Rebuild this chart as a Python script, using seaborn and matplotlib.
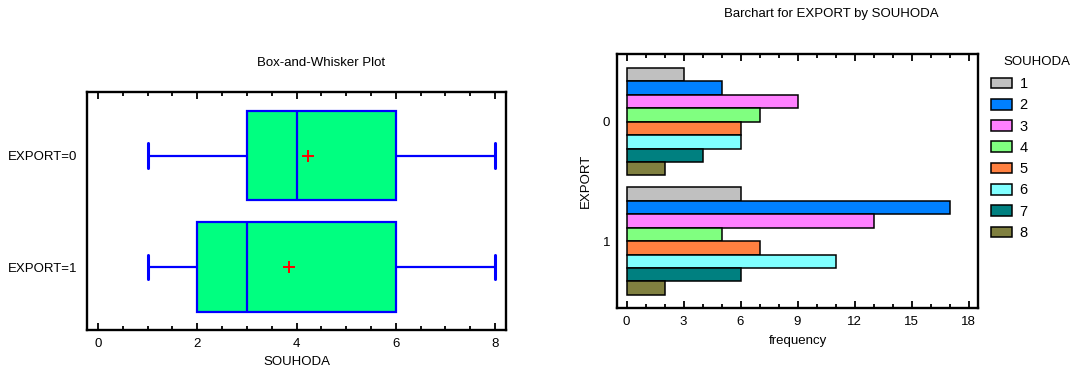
import numpy as np
import pandas as pd
import matplotlib
matplotlib.use("Agg")
import matplotlib.pyplot as plt
from matplotlib.ticker import MultipleLocator
import seaborn as sns

# Frequency table of SOUHODA (1..8) within each EXPORT group
souhoda_levels = [1, 2, 3, 4, 5, 6, 7, 8]
export_levels = ["0", "1"]
freq_export0 = [3, 5, 9, 7, 6, 6, 4, 2]
freq_export1 = [6, 17, 13, 5, 7, 11, 6, 2]
box_labels = ["EXPORT=0", "EXPORT=1"]

bar_colors = ["#C0C0C0", "#0080FF", "#FF80FF", "#80FF80",
              "#FF8040", "#80FFFF", "#008080", "#808040"]

sns.set_theme(style="white")
plt.rcParams["font.family"] = ["Liberation Sans", "DejaVu Sans"]
plt.rcParams["font.size"] = 9.5
plt.rcParams["text.color"] = "black"
plt.rcParams["axes.labelcolor"] = "black"
plt.rcParams["xtick.color"] = "black"
plt.rcParams["ytick.color"] = "black"

# Long table for the bar chart
freq_df = pd.DataFrame({
    "EXPORT": np.repeat(export_levels, len(souhoda_levels)),
    "SOUHODA": souhoda_levels * 2,
    "frequency": freq_export0 + freq_export1,
})

# Individual observations rebuilt from the counts, for the box plot
raw_rows = []
for lab, counts in zip(box_labels, [freq_export0, freq_export1]):
    for s, c in zip(souhoda_levels, counts):
        raw_rows += [(lab, s)] * c
raw_df = pd.DataFrame(raw_rows, columns=["group", "SOUHODA"])

fig = plt.figure(figsize=(10.79, 3.72), dpi=100)
W, H = 1079, 372


def px_axes(x0, y0, x1, y1):
    return fig.add_axes([x0 / W, 1 - y1 / H, (x1 - x0) / W, (y1 - y0) / H])


def style_frame(ax):
    for sp in ax.spines.values():
        sp.set_visible(True)
        sp.set_color("black")
        sp.set_linewidth(1.7)
    ax.tick_params(axis="x", which="both", direction="in", top=True, bottom=True,
                   color="black", width=1.3, labelsize=9.5, labelcolor="black",
                   pad=6)
    ax.tick_params(axis="x", which="major", length=5)
    ax.tick_params(axis="x", which="minor", length=3)
    ax.tick_params(axis="y", which="both", length=0, labelsize=9.5,
                   labelcolor="black")


# ---- Box-and-whisker plot ----
ax1 = px_axes(87, 92, 506, 330)
sns.boxplot(data=raw_df, x="SOUHODA", y="group", order=box_labels, orient="h",
            width=0.8, whis=(0, 100), color="#00FF80", saturation=1,
            linecolor="#0000FF", linewidth=1.6, showmeans=True,
            showfliers=False,
            meanprops=dict(marker="+", markeredgecolor="red", markersize=9,
                           markeredgewidth=1.4),
            ax=ax1)
# whisker caps: short vertical segments, drawn a little heavier
for ln in ax1.lines:
    yd = np.asarray(ln.get_ydata(), dtype=float)
    xd = np.asarray(ln.get_xdata(), dtype=float)
    if len(xd) == 2 and xd[0] == xd[1] and 0 < abs(yd[1] - yd[0]) < 0.6:
        c = yd.mean()
        ln.set_ydata([c - 0.11, c + 0.11])
        ln.set_linewidth(2.2)
ax1.set_xlim(-0.22, 8.22)
ax1.set_ylim(1.565, -0.57)
ax1.xaxis.set_major_locator(MultipleLocator(2))
ax1.xaxis.set_minor_locator(MultipleLocator(0.5))
style_frame(ax1)
ax1.tick_params(axis="y", pad=7)
ax1.set_ylabel("")
ax1.set_xlabel("SOUHODA", fontsize=9.5, labelpad=4)
fig.text(321 / W, 1 - 63 / H, "Box-and-Whisker Plot", ha="center", va="center",
         fontsize=9.5)

# ---- Bar chart ----
ax2 = px_axes(617, 54, 978, 308)
sns.barplot(data=freq_df, y="EXPORT", x="frequency", hue="SOUHODA",
            order=export_levels, hue_order=souhoda_levels, orient="h",
            palette=bar_colors, width=0.9, edgecolor="black", linewidth=1.1,
            saturation=1, ax=ax2, legend=True)
ax2.set_xlim(-0.5, 18.5)
ax2.set_ylim(1.56, -0.567)
ax2.xaxis.set_major_locator(MultipleLocator(3))
ax2.xaxis.set_minor_locator(MultipleLocator(1))
style_frame(ax2)
ax2.tick_params(axis="y", pad=5)
ax2.set_xlabel("frequency", fontsize=9.5, labelpad=5)
ax2.set_ylabel("EXPORT", fontsize=9.5, labelpad=8)

handles, labels = ax2.get_legend_handles_labels()
ax2.get_legend().remove()
fig.legend(handles, labels, loc="upper left",
           bbox_to_anchor=(991 / W, 1 - 77 / H), frameon=False,
           fontsize=10.5, handlelength=1.45, handleheight=0.75,
           handletextpad=0.5, labelspacing=0.5, borderpad=0,
           borderaxespad=0)
fig.text(1003 / W, 1 - 62 / H, "SOUHODA", ha="left", va="center",
         fontsize=9.5)
fig.text(831 / W, 1 - 14 / H, "Barchart for EXPORT by SOUHODA", ha="center",
         va="center", fontsize=9.5)

fig.savefig("out.png", dpi=100)
